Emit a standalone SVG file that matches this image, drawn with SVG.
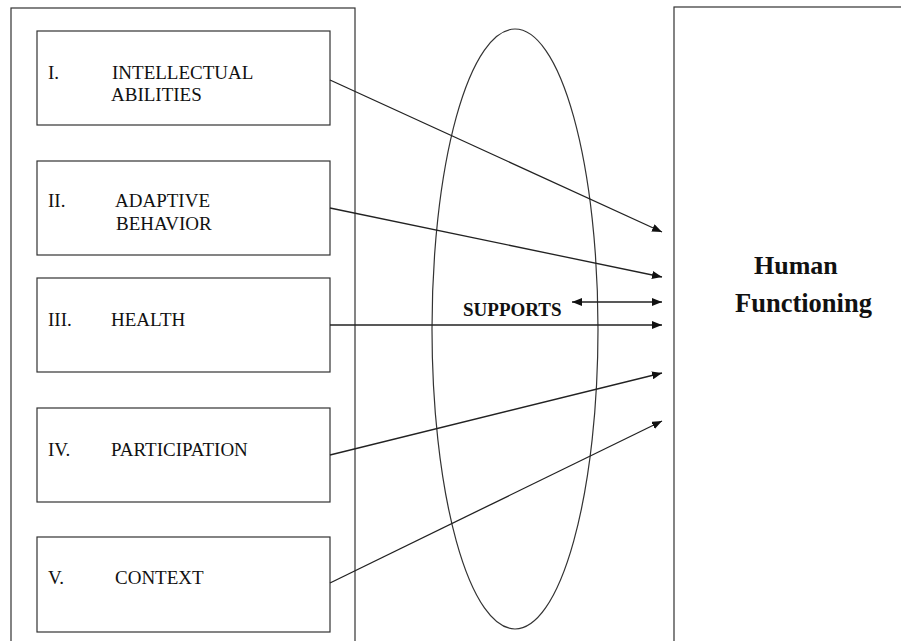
<svg xmlns="http://www.w3.org/2000/svg" width="901" height="641" viewBox="0 0 901 641">
<style>
.box{fill:none;stroke:#333;stroke-width:1.2}
.lbl{font-family:"Liberation Serif",serif;font-size:19px;fill:#111}
.b{font-weight:bold}
.con{stroke:#222;stroke-width:1.3;fill:none}
</style>
<defs>
<marker id="ah" markerWidth="10" markerHeight="8" refX="10" refY="4" orient="auto" markerUnits="userSpaceOnUse">
<path d="M0,0 L10,4 L0,8 Z" fill="#111"/>
</marker>
<marker id="ahs" markerWidth="10" markerHeight="8" refX="0" refY="4" orient="auto" markerUnits="userSpaceOnUse">
<path d="M10,0 L0,4 L10,8 Z" fill="#111"/>
</marker>
</defs>
<rect width="901" height="641" fill="#fff"/>
<g id="left-panel"><rect class="box" x="11" y="8" width="344" height="650"/></g>
<g id="human-functioning">
<rect class="box" x="674" y="7" width="240" height="650"/>
<text class="lbl b" x="754" y="274" style="font-size:26px">Human</text>
<text class="lbl b" x="735" y="312" style="font-size:26.5px">Functioning</text>
</g>
<g id="supports">
<ellipse class="box" cx="515" cy="329" rx="83" ry="300"/>
<text class="lbl b" x="463" y="316" style="font-size:19px">SUPPORTS</text>
</g>
<g id="n1"><rect class="box" x="37" y="31" width="293" height="94"/>
<text class="lbl" x="48" y="79">I.</text><text class="lbl" x="112" y="79">INTELLECTUAL</text><text class="lbl" x="111" y="101">ABILITIES</text></g>
<g id="n2"><rect class="box" x="37" y="161" width="293" height="94"/>
<text class="lbl" x="48" y="207">II.</text><text class="lbl" x="115" y="207">ADAPTIVE</text><text class="lbl" x="116" y="230">BEHAVIOR</text></g>
<g id="n3"><rect class="box" x="37" y="278" width="293" height="94"/>
<text class="lbl" x="48" y="326">III.</text><text class="lbl" x="111" y="326">HEALTH</text></g>
<g id="n4"><rect class="box" x="37" y="408" width="293" height="94"/>
<text class="lbl" x="48" y="456">IV.</text><text class="lbl" x="111" y="456">PARTICIPATION</text></g>
<g id="n5"><rect class="box" x="37" y="537" width="293" height="95"/>
<text class="lbl" x="48" y="584">V.</text><text class="lbl" x="115" y="584">CONTEXT</text></g>
<g id="connectors">
<line class="con" x1="330" y1="80" x2="662" y2="232" marker-end="url(#ah)"/>
<line class="con" x1="330" y1="208" x2="662" y2="277" marker-end="url(#ah)"/>
<line class="con" x1="330" y1="325" x2="662" y2="325" marker-end="url(#ah)"/>
<line class="con" x1="330" y1="455" x2="662" y2="373" marker-end="url(#ah)"/>
<line class="con" x1="330" y1="583" x2="662" y2="421" marker-end="url(#ah)"/>
<line class="con" x1="572" y1="302" x2="662" y2="302" stroke-width="1.8" marker-start="url(#ahs)" marker-end="url(#ah)"/>
</g>
</svg>
